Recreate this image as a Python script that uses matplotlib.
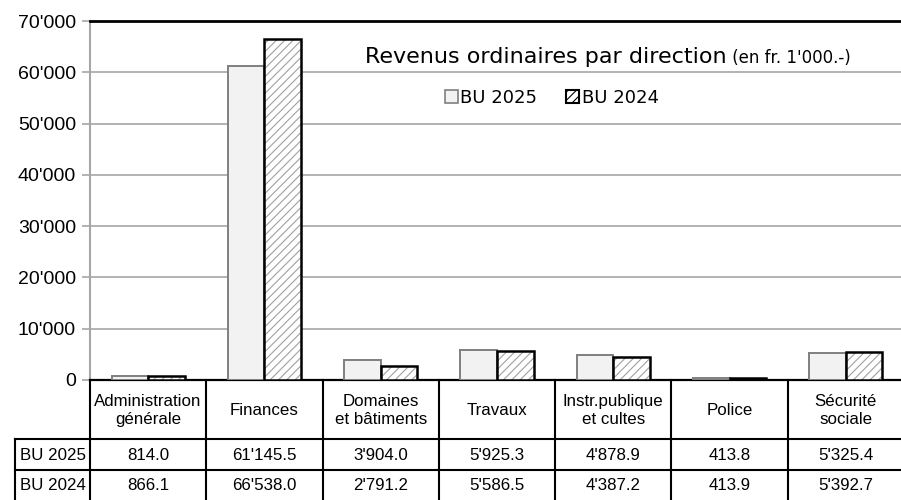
import matplotlib
matplotlib.use("Agg")
import matplotlib.pyplot as plt
from matplotlib.patches import Patch
import numpy as np

categories = ["Administration\ngénérale", "Finances", "Domaines\net bâtiments", "Travaux",
              "Instr.publique\net cultes", "Police", "Sécurité\nsociale"]
series_names = ["BU 2025", "BU 2024"]
bu2025 = [814.0, 61145.5, 3904.0, 5925.3, 4878.9, 413.8, 5325.4]
bu2024 = [866.1, 66538.0, 2791.2, 5586.5, 4387.2, 413.9, 5392.7]
yticks = [0, 10000, 20000, 30000, 40000, 50000, 60000, 70000]
title_main = "Revenus ordinaires par direction"
title_sub = " (en fr. 1'000.-)"

def fmt(v, dec=1):
    return f"{v:,.{dec}f}".replace(",", "'")

plt.rcParams["hatch.linewidth"] = 0.8

W, H = 901, 500
fig = plt.figure(figsize=(W / 100, H / 100), dpi=100)
fig.patch.set_facecolor("white")

ax_left, ax_right = 90, 904
ax_top, ax_bottom = 21, 380
ax = fig.add_axes([ax_left / W, 1 - ax_bottom / H, (ax_right - ax_left) / W, (ax_bottom - ax_top) / H])

n = len(categories)
x = np.arange(n)
w = 0.314
ax.bar(x - w / 2, bu2025, w, facecolor="#f2f2f2", edgecolor="#7f7f7f", linewidth=1.4, zorder=3)
ax.bar(x + w / 2, bu2024, w, facecolor="white", edgecolor="#a0a0a0", hatch="////", linewidth=0, zorder=3)
ax.bar(x + w / 2, bu2024, w, facecolor="none", edgecolor="black", linewidth=1.8, zorder=4)

ax.set_xlim(-0.5, n - 0.5)
ax.set_ylim(0, 70000)
ax.set_yticks(yticks)
ax.set_yticklabels([fmt(v, 0) for v in yticks], fontfamily="Liberation Sans", fontsize=14)
ax.set_xticks([])
ax.yaxis.grid(True, color="#a6a6a6", linewidth=1.2, zorder=0)
ax.set_axisbelow(True)
ax.tick_params(axis="y", length=6, color="#a6a6a6", width=1.2, pad=4)
ax.spines["right"].set_visible(False)
ax.spines["left"].set_color("#a6a6a6")
ax.spines["left"].set_linewidth(1.5)
ax.spines["top"].set_color("black")
ax.spines["top"].set_linewidth(2)
ax.spines["bottom"].set_color("black")
ax.spines["bottom"].set_linewidth(1.6)

# Title
t1 = fig.text(365 / W, 1 - 57 / H, title_main, fontfamily="DejaVu Sans", fontsize=16,
              ha="left", va="center")
fig.canvas.draw()
bb = t1.get_window_extent()
fig.text(bb.x1 / W, 1 - 58 / H, title_sub, fontfamily="DejaVu Sans", fontsize=12,
         ha="left", va="center")

# Legend
handles = [Patch(facecolor="#f2f2f2", edgecolor="#7f7f7f", linewidth=1.2),
           Patch(facecolor="white", edgecolor="black", hatch="////", linewidth=1.5)]
fig.legend(handles, series_names, loc="center left", bbox_to_anchor=(445 / W, 1 - 98 / H),
           ncol=2, frameon=False, handlelength=0.7, handleheight=0.7, handletextpad=0.15,
           columnspacing=1.6, prop={"family": "DejaVu Sans", "size": 13}, borderaxespad=0,
           borderpad=0)

# Table
tab = fig.add_axes([ax_left / W, 0, (ax_right - ax_left) / W, (H - ax_bottom) / H])
tab.set_xlim(-0.5, n - 0.5)
tab.set_ylim(H, ax_bottom)  # pixel rows, top to bottom
tab.axis("off")
row1_top, row2_top, bottom = 439, 470, 500
label_left = -0.5 - (ax_left - 15) / ((ax_right - ax_left) / n)
lw = 1.5
tfont = "Liberation Sans"
tsize = 12.2
for b in np.arange(n + 1) - 0.5:
    tab.plot([b, b], [ax_bottom, bottom], color="black", lw=lw, clip_on=False)
tab.plot([label_left, label_left], [row1_top, bottom], color="black", lw=lw, clip_on=False)
for yy in [row1_top, row2_top]:
    tab.plot([label_left, n - 0.5], [yy, yy], color="black", lw=lw, clip_on=False)
for i, c in enumerate(categories):
    tab.text(i, (ax_bottom + row1_top) / 2 + 1, c, ha="center", va="center", fontfamily=tfont,
             fontsize=tsize, linespacing=1.3, clip_on=False)
    tab.text(i, (row1_top + row2_top) / 2 + 1, fmt(bu2025[i]), ha="center", va="center",
             fontfamily=tfont, fontsize=tsize, clip_on=False)
    tab.text(i, (row2_top + bottom) / 2 + 1, fmt(bu2024[i]), ha="center", va="center",
             fontfamily=tfont, fontsize=tsize, clip_on=False)
for name, (y0, y1) in zip(series_names, [(row1_top, row2_top), (row2_top, bottom)]):
    tab.text(label_left + 0.04, (y0 + y1) / 2 + 1, name, ha="left", va="center",
             fontfamily=tfont, fontsize=tsize, clip_on=False)

fig.savefig("out.png", dpi=100)
